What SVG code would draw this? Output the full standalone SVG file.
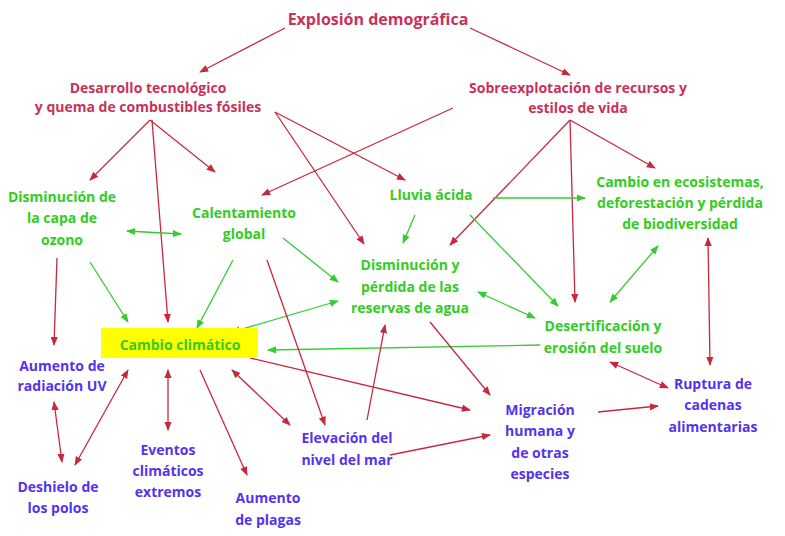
<svg xmlns="http://www.w3.org/2000/svg" width="785" height="536" viewBox="0 0 785 536">
<defs>
<marker id="ar" viewBox="0 0 10 10" refX="9" refY="5" markerWidth="7" markerHeight="7" orient="auto-start-reverse"><path d="M0,1 L10,5 L0,9 z" fill="#c8283e"/></marker>
<marker id="ag" viewBox="0 0 10 10" refX="9" refY="5" markerWidth="7" markerHeight="7" orient="auto-start-reverse"><path d="M0,1 L10,5 L0,9 z" fill="#33cc33"/></marker>
</defs>
<style>
text{font-family:"Open Sans","Liberation Sans",sans-serif;font-weight:bold;font-size:14px;text-anchor:middle}
.r{fill:#c8325a}.g{fill:#33cc22}.b{fill:#5533ee}
.lr{stroke:#c8283e;stroke-width:1.3;fill:none;marker-end:url(#ar)}
.lg{stroke:#33cc33;stroke-width:1.3;fill:none;marker-end:url(#ag)}
.dr{marker-start:url(#ar)}.dg{marker-start:url(#ag)}
</style>
<rect width="785" height="536" fill="#fff"/>
<g id="connectors">
<line class="lr" x1="285" y1="28" x2="200" y2="72"/>
<line class="lr" x1="470" y1="28" x2="570" y2="75"/>
<line class="lr" x1="150" y1="120" x2="90" y2="180"/>
<line class="lr" x1="150" y1="120" x2="215" y2="172"/>
<line class="lr" x1="152" y1="120" x2="168" y2="322"/>
<line class="lr" x1="275" y1="112" x2="364" y2="244"/>
<line class="lr" x1="275" y1="112" x2="405" y2="180"/>
<line class="lr" x1="453" y1="108" x2="262" y2="195"/>
<line class="lr" x1="570" y1="120" x2="450" y2="245"/>
<line class="lr" x1="570" y1="120" x2="575" y2="302"/>
<line class="lr" x1="570" y1="120" x2="655" y2="168"/>
<line class="lg dg" x1="127" y1="231" x2="181" y2="234"/>
<line class="lg" x1="90" y1="262" x2="128" y2="322"/>
<line class="lg" x1="233" y1="260" x2="197" y2="328"/>
<line class="lg" x1="283" y1="238" x2="338" y2="282"/>
<line class="lg dg" x1="338" y1="301" x2="232" y2="332"/>
<line class="lg" x1="415" y1="215" x2="403" y2="243"/>
<line class="lg" x1="470" y1="215" x2="558" y2="306"/>
<line class="lg" x1="493" y1="198" x2="585" y2="198"/>
<line class="lg" x1="540" y1="345" x2="268" y2="350"/>
<line class="lg dg" x1="478" y1="292" x2="535" y2="318"/>
<line class="lg dg" x1="658" y1="246" x2="610" y2="302"/>
<line class="lr" x1="57" y1="258" x2="54" y2="345"/>
<line class="lr dr" x1="54" y1="402" x2="62" y2="462"/>
<line class="lr dr" x1="75" y1="465" x2="128" y2="370"/>
<line class="lr dr" x1="168" y1="430" x2="168" y2="370"/>
<line class="lr" x1="200" y1="370" x2="247" y2="475"/>
<line class="lr dr" x1="232" y1="370" x2="290" y2="425"/>
<line class="lr" x1="267" y1="260" x2="325" y2="425"/>
<line class="lr" x1="367" y1="420" x2="385" y2="325"/>
<line class="lr" x1="250" y1="358" x2="470" y2="410"/>
<line class="lr" x1="430" y1="322" x2="490" y2="395"/>
<line class="lr" x1="390" y1="455" x2="490" y2="435"/>
<line class="lr" x1="598" y1="412" x2="658" y2="406"/>
<line class="lr dr" x1="610" y1="362" x2="668" y2="388"/>
<line class="lr dr" x1="710" y1="365" x2="708" y2="238"/>
</g>
<g id="explosion"><text class="r" x="378" y="25" style="font-size:16px">Explosión demográfica</text></g>
<g id="desarrollo"><text class="r" x="148" y="93">Desarrollo tecnológico</text><text class="r" x="148" y="112">y quema de combustibles fósiles</text></g>
<g id="sobre"><text class="r" x="578" y="93">Sobreexplotación de recursos y</text><text class="r" x="578" y="113">estilos de vida</text></g>
<g id="ozono"><text class="g" x="62" y="202">Disminución de</text><text class="g" x="62" y="223">la capa de</text><text class="g" x="62" y="245">ozono</text></g>
<g id="calentamiento"><text class="g" x="244" y="218">Calentamiento</text><text class="g" x="244" y="239">global</text></g>
<g id="lluvia"><text class="g" x="431" y="200">Lluvia ácida</text></g>
<g id="ecosistemas"><text class="g" x="680" y="187">Cambio en ecosistemas,</text><text class="g" x="680" y="208">deforestación y pérdida</text><text class="g" x="680" y="229">de biodiversidad</text></g>
<g id="agua"><text class="g" x="410" y="270">Disminución y</text><text class="g" x="410" y="292">pérdida de las</text><text class="g" x="410" y="313">reservas de agua</text></g>
<g id="desert"><text class="g" x="603" y="331">Desertificación y</text><text class="g" x="603" y="353">erosión del suelo</text></g>
<g id="cambio"><rect x="101" y="328" width="157" height="30" fill="#ffff00"/><text class="g" x="180" y="350">Cambio climático</text></g>
<g id="uv"><text class="b" x="62" y="371">Aumento de</text><text class="b" x="62" y="391">radiación UV</text></g>
<g id="ruptura"><text class="b" x="713" y="389">Ruptura de</text><text class="b" x="713" y="410">cadenas</text><text class="b" x="713" y="432">alimentarias</text></g>
<g id="migracion"><text class="b" x="540" y="415">Migración</text><text class="b" x="540" y="436">humana y</text><text class="b" x="540" y="458">de otras</text><text class="b" x="540" y="479">especies</text></g>
<g id="elevacion"><text class="b" x="347" y="443">Elevación del</text><text class="b" x="347" y="465">nivel del mar</text></g>
<g id="eventos"><text class="b" x="168" y="455">Eventos</text><text class="b" x="168" y="476">climáticos</text><text class="b" x="168" y="497">extremos</text></g>
<g id="deshielo"><text class="b" x="58" y="492">Deshielo de</text><text class="b" x="58" y="513">los polos</text></g>
<g id="plagas"><text class="b" x="268" y="503">Aumento</text><text class="b" x="268" y="525">de plagas</text></g>
</svg>
